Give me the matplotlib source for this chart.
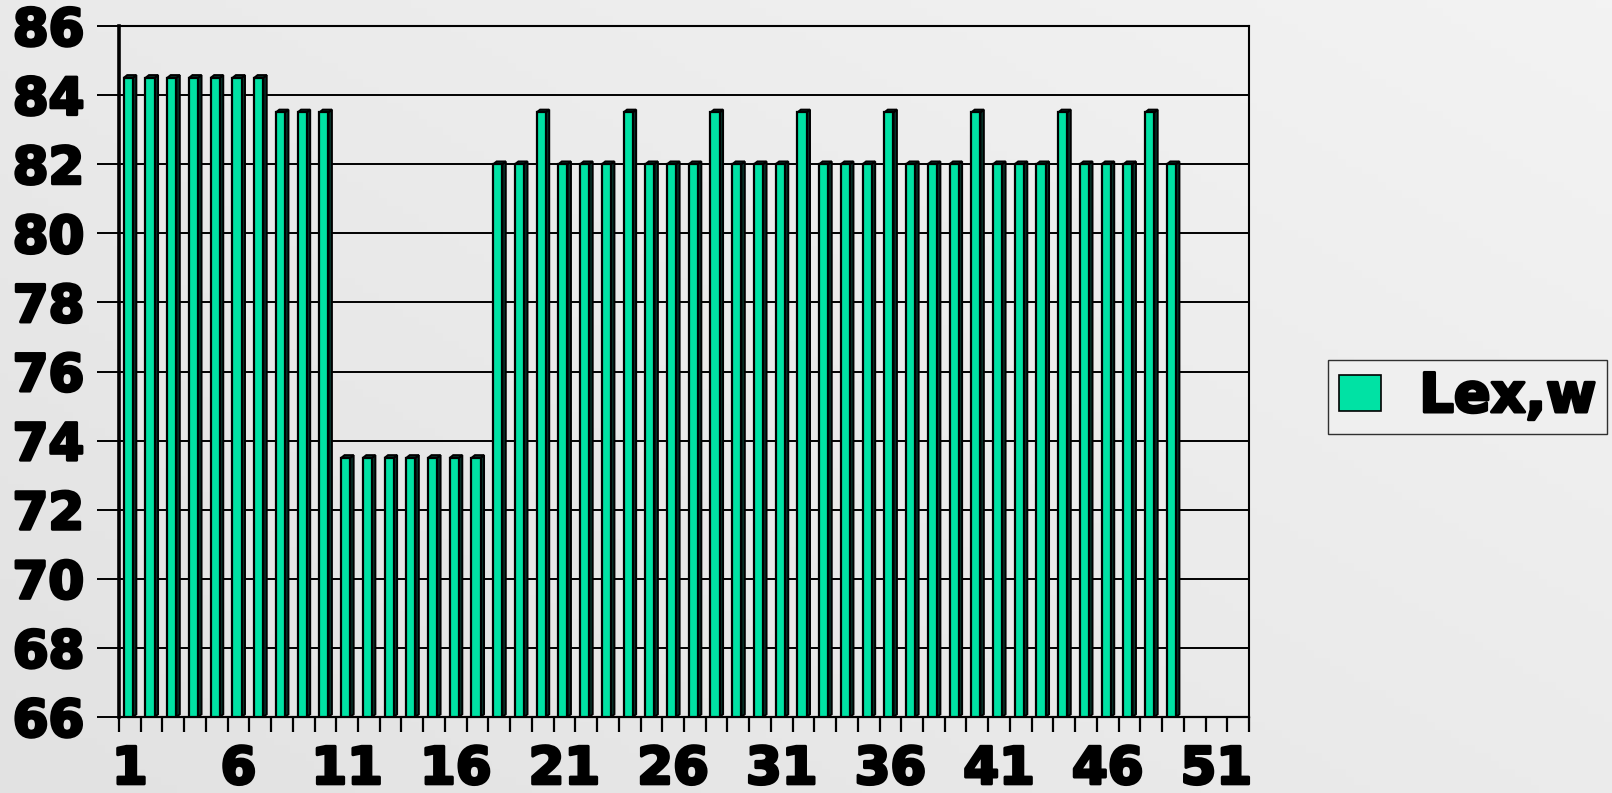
import numpy as np
import matplotlib
matplotlib.use('Agg')
import matplotlib.pyplot as plt
import matplotlib.patheffects as pe
from matplotlib.patches import Polygon

# data
categories = np.arange(1, 53)
values = [84.5] * 7 + [83.5] * 3 + [73.5] * 7 + [82.0, 82.0] + \
         [83.5, 82.0, 82.0, 82.0] * 7 + [83.5, 82.0]
tick_labels = [str(c) for c in range(1, 53, 5)]
series_name = 'Lex,w'

bar_color = '#00E2A4'
side_color = '#06342A'

fig = plt.figure(figsize=(16.12, 7.93), dpi=100)

# soft grey gradient behind everything
bg = fig.add_axes([0, 0, 1, 1], zorder=-10)
gx, gy = np.meshgrid(np.linspace(0, 1, 200), np.linspace(0, 1, 100))
bg.imshow(0.55 * gx + 0.45 * gy, cmap=matplotlib.colors.LinearSegmentedColormap.from_list(
    'g', ['#e2e2e2', '#f3f3f3']), aspect='auto', origin='lower', extent=[0, 1, 0, 1])
bg.axis('off')

ax = fig.add_axes([0.0738, 0.0958, 0.7010, 0.8714])
ax.set_facecolor('none')

ymin = 66
ax.set_xlim(0.5, 52.5)
ax.set_ylim(ymin, 86)

# front faces
xs = categories[:len(values)]
ax.bar(xs - 0.07, np.array(values) - ymin, bottom=ymin, width=0.42,
       color=bar_color, edgecolor='black', linewidth=1.6, zorder=4,
       label=series_name)

# fake 3d: side and top faces
dx, dy = 0.16, 0.08
for x, v in zip(xs, values):
    r = x + 0.14
    l = x - 0.28
    side = Polygon([(r, ymin), (r + dx, ymin + dy), (r + dx, v + dy), (r, v)],
                   closed=True, facecolor=side_color, edgecolor='black',
                   linewidth=1.4, zorder=3)
    top = Polygon([(l, v), (l + dx, v + dy), (r + dx, v + dy), (r, v)],
                  closed=True, facecolor=side_color, edgecolor='black',
                  linewidth=1.4, zorder=3)
    ax.add_patch(side)
    ax.add_patch(top)

# gridlines
ax.set_yticks(np.arange(66, 87, 2))
ax.yaxis.grid(True, color='black', linewidth=1.4, zorder=1)
ax.set_axisbelow(True)

# ticks at category boundaries, labels under every 5th category
ax.set_xticks(np.arange(1, 53, 5))
ax.set_xticklabels(tick_labels)
ax.set_xticks(np.arange(0.5, 53, 1), minor=True)
ax.tick_params(axis='x', which='major', length=0, pad=20)
ax.tick_params(axis='x', which='minor', length=11, width=1.6, color='black')
ax.tick_params(axis='y', length=16, width=1.4, pad=9)

heavy = [pe.withStroke(linewidth=2.2, foreground='black')]
for lab in ax.get_xticklabels() + ax.get_yticklabels():
    lab.set_fontsize(37)
    lab.set_fontweight('bold')
    lab.set_family('DejaVu Sans')
    lab.set_path_effects(heavy)

ax.spines['left'].set_linewidth(2.6)
ax.spines['bottom'].set_linewidth(1.6)
ax.spines['top'].set_linewidth(1.5)
ax.spines['right'].set_linewidth(1.5)

leg = fig.legend(loc='center', bbox_to_anchor=(0.9104, 0.4994), frameon=True,
                 fancybox=False, prop={'weight': 'bold', 'size': 39},
                 handlelength=0.78, handleheight=0.66, handletextpad=0.7,
                 borderpad=0.2, borderaxespad=0)
leg.get_frame().set_edgecolor('black')
leg.get_frame().set_linewidth(1.0)
leg.get_frame().set_facecolor('#f0f0f0')
for t in leg.get_texts():
    t.set_path_effects(heavy)
for h in leg.legend_handles:
    h.set_linewidth(1.2)

fig.savefig('out.png', dpi=100)
